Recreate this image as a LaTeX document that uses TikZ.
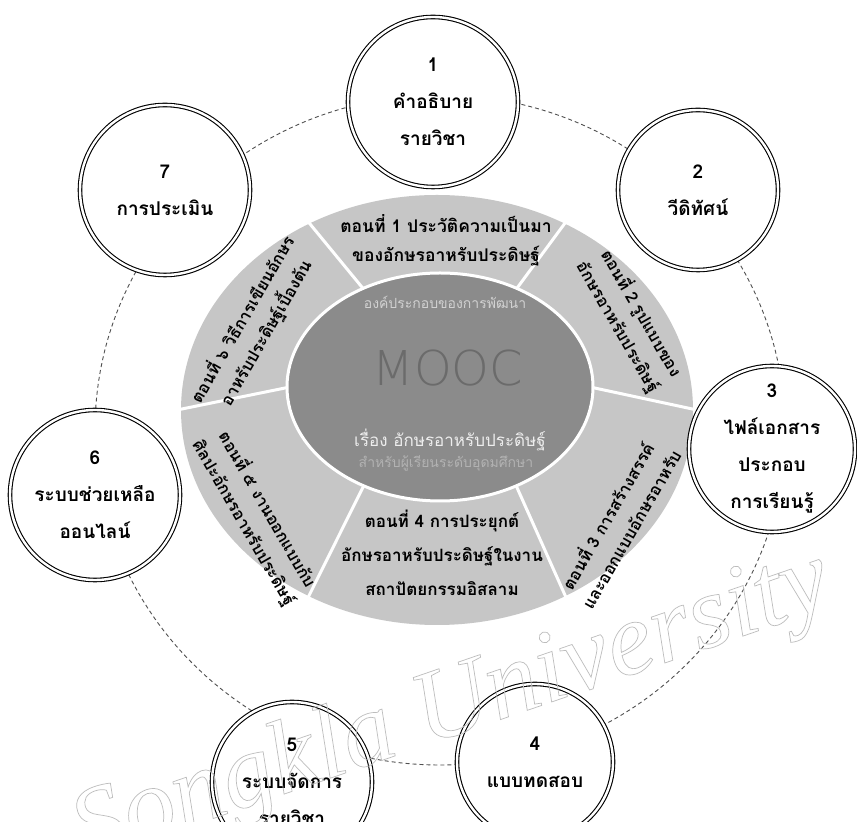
\documentclass[tikz,border=0pt]{standalone}
\usepackage{fontspec}
\setmainfont{Liberation Serif}
\newfontfamily\thai[Script=Thai]{Loma}
\newfontfamily\moocf{DejaVu Sans ExtraLight}
\definecolor{ringgray}{HTML}{C6C6C6}
\definecolor{innergray}{HTML}{8B8B8B}
\definecolor{dashgray}{HTML}{505050}
\definecolor{wmgray}{HTML}{BDBDBD}
\newcommand\strokeonly[2]{\special{pdf:literal direct 1 Tr #1 w}#2\special{pdf:literal direct 0 Tr}}
\tikzset{
  segtext/.style={align=center, inner sep=0pt, font=\thai\bfseries\fontsize{17}{29}\selectfont},
  segrot/.style={align=center, inner sep=0pt, font=\thai\bfseries\fontsize{16.5}{27}\selectfont},
  bub/.style={circle, draw=black, fill=white, double=white, double distance=2.4pt, line width=1.1pt,
              minimum size=#1, inner sep=0pt, align=center,
              font=\thai\bfseries\fontsize{19}{37}\selectfont},
  dashcirc/.style={draw=dashgray, line width=0.9pt, dash pattern=on 4pt off 3pt},
  divider/.style={draw=white, line width=3pt},
}
\begin{document}
\begin{tikzpicture}[x=1pt,y=1pt]
\useasboundingbox (0,0) rectangle (857,822);
\fill[white] (0,0) rectangle (857,822);
\coordinate (Co) at (437,412);  % outer ring centre
\coordinate (Ci) at (440,435);  % inner disc centre
\coordinate (D) at (440,392);   % dashed orbit centre
% dashed orbit
\draw[dashcirc] (D) ellipse [x radius=345, y radius=335];
% ring and inner disc
\fill[ringgray] (Co) ellipse [x radius=256, y radius=215];
\foreach \a in {0,60,...,300}
  \draw[divider] ([shift={(\a:150 and 111)}]Ci) -- ([shift={(\a:260 and 219)}]Co);
\fill[innergray] (Ci) ellipse [x radius=153, y radius=114];
\draw[white, line width=3pt] (Ci) ellipse [x radius=153, y radius=114];
% inner texts
\node[text=black!18, font=\thai\fontsize{14}{16}\selectfont] (t1) at (445,520) {องค์ประกอบของการพัฒนา};
\node[text=black!58, font=\moocf\fontsize{48}{48}\selectfont] (mooc) at (448,454) {MOOC};
\node[text=black!7, font=\thai\fontsize{17}{20}\selectfont] (t2) at (450,382) {เรื่อง อักษรอาหรับประดิษฐ์};
\node[text=black!30, font=\thai\fontsize{14}{16}\selectfont] (t3) at (446,359) {สำหรับผู้เรียนระดับอุดมศึกษา};
% segment texts
\node[segtext, font=\thai\bfseries\fontsize{17.5}{29}\selectfont] (s1) at (446,582) {ตอนที่ 1 ประวัติความเป็นมา\\ของอักษรอาหรับประดิษฐ์};
\node[segrot, rotate=-60] (s2) at (630,502) {ตอนที่ 2 รูปแบบของ\\อักษรอาหรับประดิษฐ์};
\node[segrot, rotate=60] (s3) at (618,300) {ตอนที่ 3 การสร้างสรรค์\\และออกแบบอักษรอาหรับ};
\node[segtext, font=\thai\bfseries\fontsize{17}{34}\selectfont] (s4) at (442,269) {ตอนที่ 4 การประยุกต์\\อักษรอาหรับประดิษฐ์ในงาน\\สถาปัตยกรรมอิสลาม};
\node[segrot, rotate=-60] (s5) at (256,306) {ตอนที่ ๕ งานออกแบบกับ\\ศิลปะอักษรอาหรับประดิษฐ์};
\node[segrot, rotate=60] (s6) at (254,496) {ตอนที่ ๖ วิธีการเขียนอักษร\\อาหรับประดิษฐ์เบื้องต้น};
% bubbles
\node[bub=170] (c1) at (433,720) {1\\คำอธิบาย\\รายวิชา};
\node[bub=160] (c2) at (698,632) {2\\วีดิทัศน์};
\node[bub=166] (c3) at (772,373) {3\\ไฟล์เอกสาร\\ประกอบ\\การเรียนรู้};
\node[bub=156] (c4) at (535,60) {4\\แบบทดสอบ};
\node[bub=160] (c5) at (292,40) {5\\ระบบจัดการ\\รายวิชา};
\node[bub=170] (c6) at (95,327) {6\\ระบบช่วยเหลือ\\ออนไลน์};
\node[bub=170] (c7) at (165,632) {7\\การประเมิน};
% watermark
\node[text=wmgray, rotate=19, font=\itshape\fontsize{104}{104}\selectfont] (wm) at (452,112) {\strokeonly{0.7}{Songkla University}};
\end{tikzpicture}
\end{document}
